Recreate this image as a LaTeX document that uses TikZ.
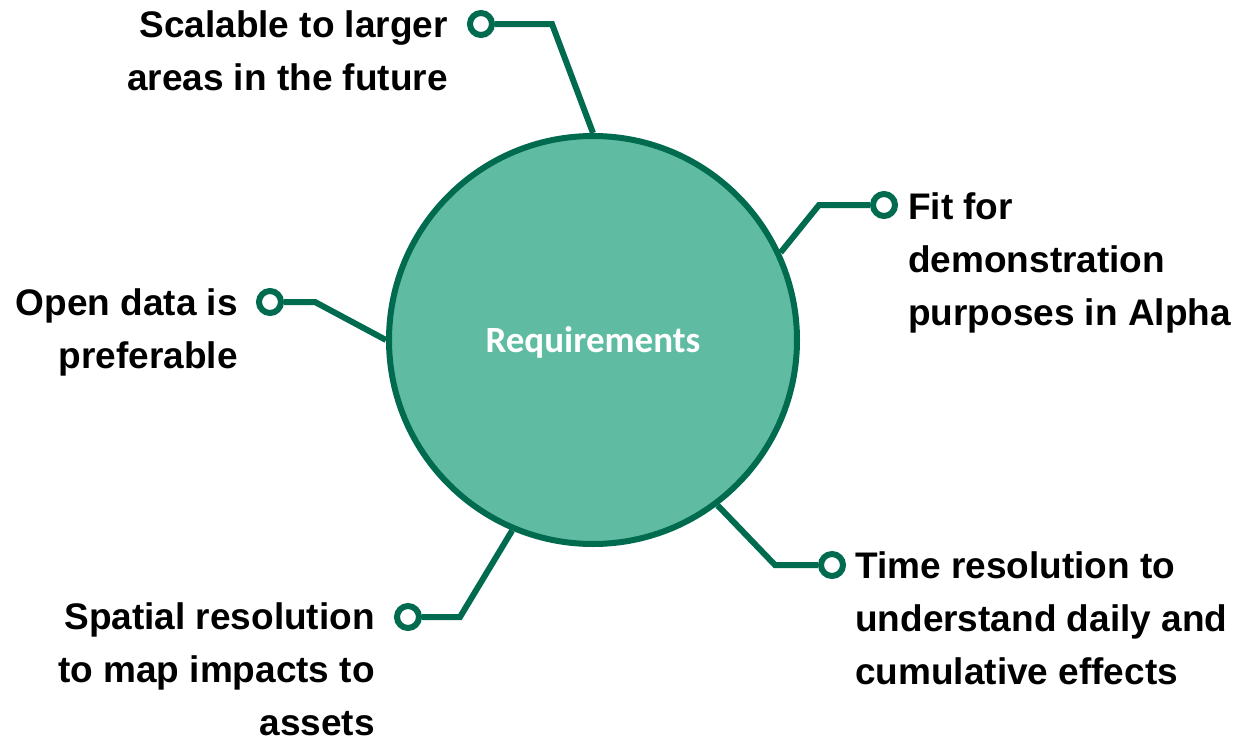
\documentclass[tikz,border=0pt]{standalone}
\usepackage{fontspec}
\setmainfont{Liberation Sans}
\newfontfamily\calib{Carlito}
\definecolor{dkgreen}{RGB}{0,107,79}
\definecolor{ltgreen}{RGB}{95,188,162}
\begin{document}
\begin{tikzpicture}[x=1pt,y=-1pt,
  conn/.style={draw=dkgreen, line width=6pt},
  endring/.style={circle, draw=dkgreen, line width=6pt, fill=white, minimum size=22pt, inner sep=0},
  lbl/.style={font=\fontsize{37}{53}\selectfont\bfseries, inner sep=0, text=black}]
\useasboundingbox (0,0) rectangle (1235,739);
\node[circle, draw=dkgreen, fill=ltgreen, line width=6pt, minimum size=408pt, inner sep=0] (req) at (593,340) {};
\node[inner sep=0, text=white, font=\calib\bfseries\fontsize{37}{44}\selectfont] (reqtext) at (593,342) {Requirements};
% rings
\node[endring] (r1) at (481,24) {};
\node[endring] (r2) at (884,205) {};
\node[endring] (r3) at (832,565) {};
\node[endring] (r4) at (408,617) {};
\node[endring] (r5) at (270,302) {};
% corners
\coordinate (c1) at (552,24);
\coordinate (c2) at (819,205);
\coordinate (c3) at (775,565);
\coordinate (c4) at (460,617);
\coordinate (c5) at (315,302);
\draw[conn] (r1.east) -- (c1) -- (req.90);
\draw[conn] (r2.west) -- (c2) -- (req.25);
\draw[conn] (r3.west) -- (c3) -- (req.-53);
\draw[conn] (r4.east) -- (c4) -- (req.247);
\draw[conn] (r5.east) -- (c5) -- (req.180.5);
% labels
\node[lbl, anchor=north east, align=right] (l1) at (448,10) {Scalable to larger\\areas in the future};
\node[lbl, anchor=north west, align=left] (l2) at (908,192) {Fit for\\demonstration\\purposes in Alpha};
\node[lbl, anchor=north west, align=left] (l3) at (855,551) {Time resolution to\\understand daily and\\cumulative effects};
\node[lbl, anchor=north east, align=right] (l4) at (375,602) {Spatial resolution\\to map impacts to\\assets};
\node[lbl, anchor=north east, align=right] (l5) at (238,288) {Open data is\\preferable};
\end{tikzpicture}
\end{document}
